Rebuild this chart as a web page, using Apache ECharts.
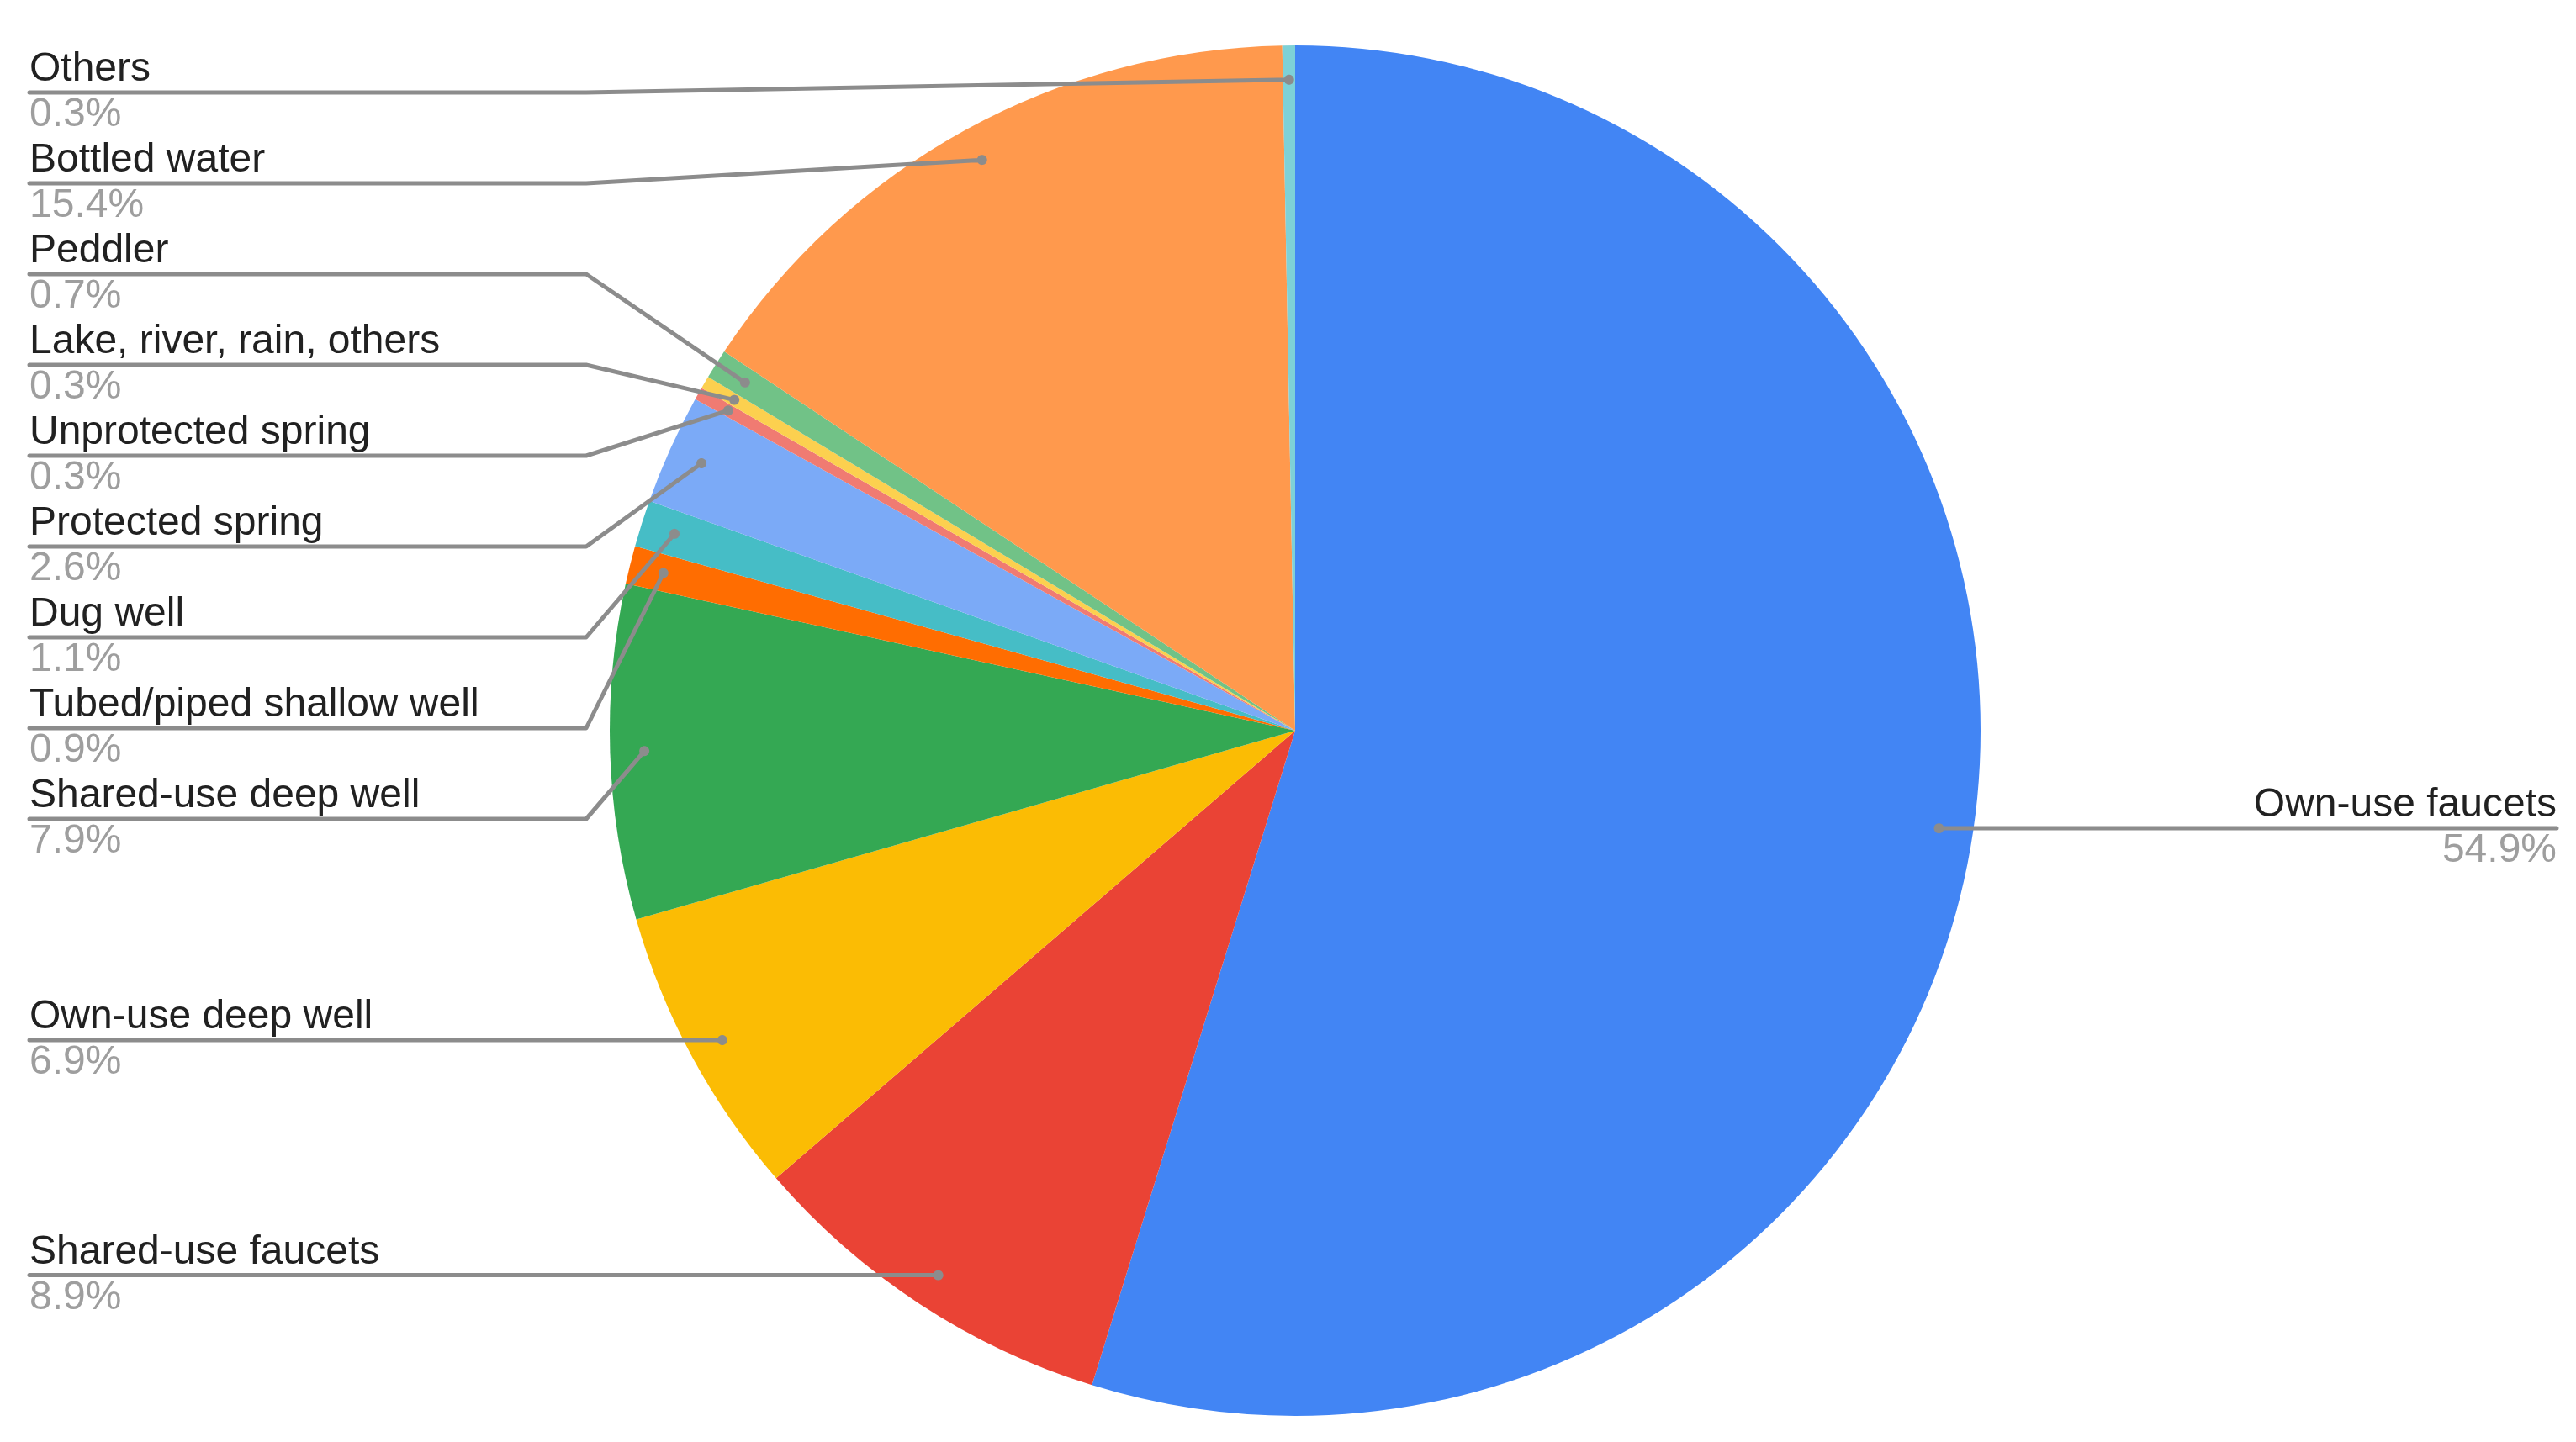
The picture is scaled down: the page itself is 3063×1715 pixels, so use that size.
<!DOCTYPE html>
<html>
<head>
<meta charset="utf-8">
<script src="https://cdn.jsdelivr.net/npm/echarts@6/dist/echarts.min.js"></script>
<style>
html,body{margin:0;padding:0;background:#ffffff;}
#chart{width:3063px;height:1715px;}
</style>
</head>
<body>
<div id="chart"></div>
<script>
// ---- data ----
const categories = ['Own-use faucets','Shared-use faucets','Own-use deep well','Shared-use deep well','Tubed/piped shallow well','Dug well','Protected spring','Unprotected spring','Lake, river, rain, others','Peddler','Bottled water','Others'];
const shares = [54.9, 8.9, 6.9, 7.9, 0.9, 1.1, 2.6, 0.3, 0.3, 0.7, 15.4, 0.3];
const sliceColors = ['#4285F4','#EA4335','#FBBC04','#34A853','#FF6D01','#46BDC6','#7BAAF7','#F07B72','#FCD04F','#71C287','#FF994D','#7ED1D7'];

// ---- layout / style constants ----
const W = 3063, H = 1715;
const LINE_H = 54, LABEL_H = 2 * LINE_H;
const EDGE_L = 35, EDGE_R = 23, ELBOW_X = 697, DOT_FRAC = 0.95, DOT_R = 3.5;
const LINE_COLOR = '#8c8c8c';
const PIE_CENTER = [1540, 869], PIE_R = 815;

const chart = echarts.init(document.getElementById('chart'), null, {renderer: 'canvas'});

let placed = null;
function stackSide(list, minC, maxC) {
  list.sort((a, b) => a.y - b.y);
  const clusters = list.map(it => ({m: [it], sum: it.y}));
  const place = c => {
    const n = c.m.length;
    let f = c.sum / n - (n - 1) * LABEL_H / 2;
    f = Math.min(f, maxC - (n - 1) * LABEL_H);
    f = Math.max(f, minC);
    c.first = f;
  };
  clusters.forEach(place);
  let merged = true;
  while (merged) {
    merged = false;
    for (let k = 0; k + 1 < clusters.length; k++) {
      const a = clusters[k], b = clusters[k + 1];
      if (a.first + a.m.length * LABEL_H > b.first + 0.01) {
        a.m = a.m.concat(b.m); a.sum += b.sum; place(a);
        clusters.splice(k + 1, 1); merged = true; break;
      }
    }
  }
  clusters.forEach(c => c.m.forEach((it, j) => { it.ly = c.first + j * LABEL_H; }));
}
function computePlacement(seriesIndex) {
  const data = chart.getModel().getSeriesByIndex(seriesIndex).getData();
  const items = [];
  let geo = null;
  for (let i = 0; i < data.count(); i++) {
    const l = data.getItemLayout(i);
    geo = l;
    const mid = (l.startAngle + l.endAngle) / 2;
    const dx = Math.cos(mid), dy = Math.sin(mid);
    const dot = [l.cx + l.r * DOT_FRAC * dx, l.cy + l.r * DOT_FRAC * dy];
    items.push({i: i, left: dx < 0, dot: dot, y: dot[1]});
  }
  const minC = geo.cy - geo.r + LABEL_H / 2 + 2;
  const maxC = H - LABEL_H / 2;
  stackSide(items.filter(it => it.left), minC, maxC);
  stackSide(items.filter(it => !it.left), minC, maxC);
  const out = [];
  items.forEach(it => { out[it.i] = it; });
  return out;
}

const pieBase = {
  type: 'pie',
  left: 0, top: 0, right: 0, bottom: 0,
  center: PIE_CENTER,
  radius: [0, PIE_R],
  startAngle: 90,
  clockwise: true,
  avoidLabelOverlap: false,
  emphasis: {disabled: true},
  silent: true
};

const option = {
  backgroundColor: '#ffffff',
  animation: false,
  series: [
    Object.assign({}, pieBase, {
      z: 2,
      itemStyle: {borderWidth: 0},
      data: categories.map((c, i) => ({name: c, value: shares[i], itemStyle: {color: sliceColors[i]}})),
      label: {show: false},
      labelLine: {show: false}
    }),
    Object.assign({}, pieBase, {
      z: 5,
      itemStyle: {borderWidth: 0, color: 'rgba(0,0,0,0)'},
      data: categories.map((c, i) => ({name: c, value: shares[i]})),
      label: {
        show: true,
        position: 'outside',
        opacity: 1,
        fontFamily: 'Liberation Sans, Arial, sans-serif',
        formatter: p => '{n|' + p.name + '}\n{p|' + p.value + '%}',
        rich: {
          n: {fontSize: 48, lineHeight: LINE_H, color: '#212121', fontFamily: 'Liberation Sans'},
          p: {fontSize: 48, lineHeight: LINE_H, color: '#9e9e9e', fontFamily: 'Liberation Sans'}
        }
      },
      labelLine: {
        show: true,
        length: 10,
        length2: 10,
        smooth: false,
        lineStyle: {color: LINE_COLOR, width: 5, opacity: 1, cap: 'round', join: 'round'}
      },
      labelLayout: function (params) {
        if (!placed) placed = computePlacement(params.seriesIndex);
        const it = placed[params.dataIndex];
        const px = it.dot[0], py = it.dot[1];
        const pts = [];
        for (let k = 0; k <= 16; k++) {
          const a = k / 16 * Math.PI * 2;
          pts.push([px + DOT_R * Math.cos(a), py + DOT_R * Math.sin(a)]);
        }
        pts.push([px, py]);
        const elbowX = it.left ? ELBOW_X : W - ELBOW_X;
        const endX = it.left ? EDGE_L : W - EDGE_R;
        pts.push([elbowX, it.ly]);
        pts.push([endX, it.ly]);
        return {
          x: endX,
          y: it.ly,
          align: it.left ? 'left' : 'right',
          verticalAlign: 'middle',
          labelLinePoints: pts
        };
      }
    })
  ]
};
chart.setOption(option);
</script>
</body>
</html>
